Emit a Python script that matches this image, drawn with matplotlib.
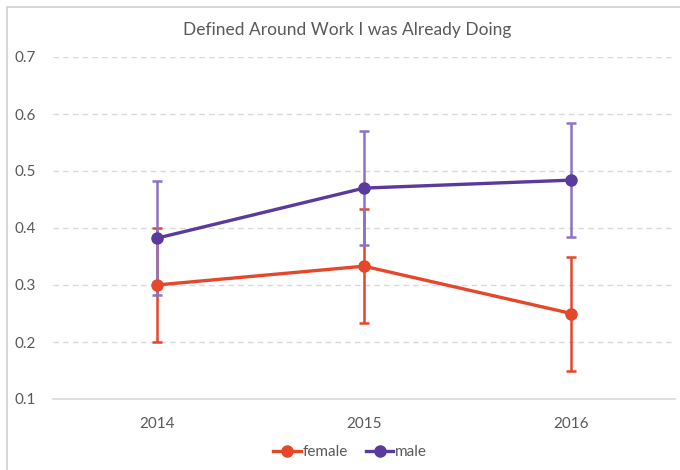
import matplotlib
matplotlib.use("Agg")
import matplotlib.pyplot as plt
from matplotlib.patches import Rectangle
from matplotlib.lines import Line2D

years = ["2014", "2015", "2016"]
female = [0.30, 0.333, 0.25]
male = [0.382, 0.47, 0.484]
female_err = [0.10, 0.10, 0.10]
male_err = [0.10, 0.10, 0.10]
yticks = [0.1, 0.2, 0.3, 0.4, 0.5, 0.6, 0.7]

plt.rcParams['font.family'] = ['Lato', 'DejaVu Sans']
TXT = '#595959'
C_F = '#E5472A'
C_M = '#5A3A9E'
C_ME = '#8C72C4'

fig = plt.figure(figsize=(6.8, 4.7), dpi=100)
fig.patches.append(Rectangle((7/680, -0.1), 1.2, 1 - 7/470 + 0.1, transform=fig.transFigure,
                             fill=False, edgecolor='#D0D0D0', linewidth=1.2))
ax = fig.add_axes([53/680, 1 - 399/470, (675-53)/680, (399-57)/470])

x = list(range(len(years)))
ax.errorbar(x, female, yerr=female_err, fmt='none', ecolor=C_F, elinewidth=1.8,
            capsize=3.5, capthick=1.8, zorder=3)
ax.errorbar(x, male, yerr=male_err, fmt='none', ecolor=C_ME, elinewidth=1.8,
            capsize=3.5, capthick=1.8, zorder=3)
ax.plot(x, female, color=C_F, lw=2.4, marker='o', ms=8, zorder=4)
ax.plot(x, male, color=C_M, lw=2.4, marker='o', ms=8, zorder=4)

ax.set_xlim(-0.5, 2.5)
ax.set_ylim(0.1, 0.7)
ax.set_yticks(yticks)
ax.set_yticklabels([f"{v:.1f}" for v in yticks])
ax.set_xticks(x)
ax.set_xticklabels(years)
for v in yticks[1:]:
    ax.axhline(v, color='#D9D9D9', lw=1, ls=(0, (4, 3)), zorder=1)
for s in ['top', 'right', 'left']:
    ax.spines[s].set_visible(False)
ax.spines['bottom'].set_color('#D9D9D9')
ax.spines['bottom'].set_linewidth(1.2)
ax.tick_params(axis='both', length=0, labelsize=11, colors=TXT)
ax.tick_params(axis='y', pad=12)
ax.tick_params(axis='x', pad=13)

fig.text(347/680, 1 - 30/470, "Defined Around Work I was Already Doing", ha='center', va='center',
         fontsize=12.5, color=TXT)

handles = [Line2D([0], [0], color=C_F, lw=2.4, marker='o', ms=8),
           Line2D([0], [0], color=C_M, lw=2.4, marker='o', ms=8)]
fig.legend(handles, ['female', 'male'], loc='center', bbox_to_anchor=(350/680, 1 - 452/470),
           ncol=2, frameon=False, fontsize=11, labelcolor=TXT, handlelength=1.8,
           handletextpad=0.1, columnspacing=1.2)

fig.savefig("out.png", dpi=100)
